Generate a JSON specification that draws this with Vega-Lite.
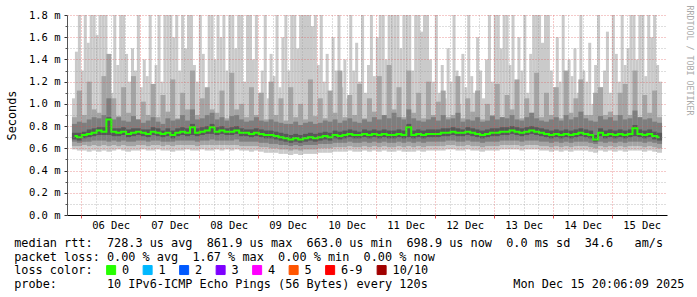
{
  "$schema": "https://vega.github.io/schema/vega-lite/v6.json",
  "width": 600,
  "height": 200,
  "autosize": {"type": "none"},
  "padding": {"left": 67, "top": 15, "right": 30, "bottom": 82},
  "background": "#ffffff",
  "config": {"view": {"stroke": null}, "font": "DejaVu Sans Mono"},
  "title": {
    "text": ["median\u00a0rtt:\u00a0\u00a0728.3\u00a0us\u00a0avg\u00a0\u00a0861.9\u00a0us\u00a0max\u00a0\u00a0663.0\u00a0us\u00a0min\u00a0\u00a0698.9\u00a0us\u00a0now\u00a0\u00a00.0\u00a0ms\u00a0sd\u00a0\u00a034.6\u00a0\u00a0\u00a0am/s",
             "packet\u00a0loss:\u00a00.00\u00a0%\u00a0avg\u00a0\u00a01.67\u00a0%\u00a0max\u00a0\u00a00.00\u00a0%\u00a0min\u00a0\u00a00.00\u00a0%\u00a0now"],
    "subtitle": "probe:\u00a0\u00a0\u00a0\u00a0\u00a0\u00a0\u00a010\u00a0IPv6-ICMP\u00a0Echo\u00a0Pings\u00a0(56\u00a0Bytes)\u00a0every\u00a0120s\u00a0\u00a0\u00a0\u00a0\u00a0\u00a0\u00a0\u00a0\u00a0\u00a0\u00a0\u00a0Mon\u00a0Dec\u00a015\u00a020:06:09\u00a02025",
    "orient": "bottom",
    "anchor": "start",
    "frame": "group",
    "dx": -52.8,
    "offset": -39.5,
    "font": "DejaVu Sans Mono",
    "fontSize": 11.85,
    "fontWeight": "normal",
    "color": "#000000",
    "lineHeight": 14,
    "subtitleFont": "DejaVu Sans Mono",
    "subtitleFontSize": 11.85,
    "subtitleFontWeight": "normal",
    "subtitleColor": "#000000",
    "subtitleLineHeight": 14,
    "subtitlePadding": 16
  },
  "datasets": {
    "spk": [
      {"h":20.9,"v":1.05},{"h":22.1,"v":1.47},{"h":23.3,"v":1.8},{"h":24.5,"v":1.3},{"h":25.7,"v":1.8},{"h":26.9,"v":1.55},{"h":28.1,"v":1.8},{"h":29.3,"v":1.8},{"h":30.5,"v":1.62},{"h":31.7,"v":1.8},
      {"h":32.9,"v":1.8},{"h":34.1,"v":1.8},{"h":35.3,"v":1.25},{"h":36.5,"v":1.1},{"h":37.7,"v":1.8},{"h":38.9,"v":1.35},{"h":40.1,"v":1.8},{"h":41.3,"v":1.8},{"h":42.5,"v":1.45},{"h":43.7,"v":1.2},
      {"h":44.9,"v":1.5},{"h":46.1,"v":1.3},{"h":47.3,"v":1.8},{"h":48.5,"v":1.15},{"h":49.7,"v":1.4},{"h":50.9,"v":1.25},{"h":52.1,"v":1.8},{"h":53.3,"v":1.1},{"h":54.5,"v":1.35},{"h":55.7,"v":1.8},
      {"h":56.9,"v":1.2},{"h":58.1,"v":1.8},{"h":59.3,"v":1.8},{"h":60.5,"v":1.8},{"h":61.7,"v":1.6},{"h":62.9,"v":1.8},{"h":64.1,"v":1.3},{"h":65.3,"v":1.8},{"h":66.5,"v":1.5},{"h":67.7,"v":1.8},
      {"h":68.9,"v":1.8},{"h":70.1,"v":1.35},{"h":71.3,"v":1.2},{"h":72.5,"v":1.8},{"h":73.7,"v":1.45},{"h":74.9,"v":1.1},{"h":76.1,"v":1.8},{"h":77.3,"v":1.8},{"h":78.5,"v":1.4},{"h":79.7,"v":1.8},
      {"h":80.9,"v":1.6},{"h":82.1,"v":1.8},{"h":83.3,"v":1.3},{"h":84.5,"v":1.8},{"h":85.7,"v":1.8},{"h":86.9,"v":1.5},{"h":88.1,"v":1.8},{"h":89.3,"v":1.8},{"h":90.5,"v":1.2},{"h":91.7,"v":1.8},
      {"h":92.9,"v":1.8},{"h":94.1,"v":1.4},{"h":95.3,"v":1.8},{"h":96.5,"v":1.1},{"h":97.7,"v":1.3},{"h":98.9,"v":1.8},{"h":100.1,"v":1.05},{"h":101.3,"v":1.45},{"h":102.5,"v":1.25},{"h":103.7,"v":1.8},
      {"h":104.9,"v":1.15},{"h":106.1,"v":1.6},{"h":107.3,"v":1.8},{"h":108.5,"v":1.3},{"h":109.7,"v":1.8},{"h":110.9,"v":1.8},{"h":112.1,"v":1.5},{"h":113.3,"v":1.8},{"h":114.5,"v":1.8},{"h":115.7,"v":1.8},
      {"h":116.9,"v":1.8},{"h":118.1,"v":1.7},{"h":119.3,"v":1.8},{"h":120.5,"v":1.35},{"h":121.7,"v":1.8},{"h":122.9,"v":1.2},{"h":124.1,"v":1.45},{"h":125.3,"v":1.1},{"h":126.5,"v":1.6},{"h":127.7,"v":1.3},
      {"h":128.9,"v":1.8},{"h":130.1,"v":1.15},{"h":131.3,"v":1.4},{"h":132.5,"v":1.05},{"h":133.7,"v":1.8},{"h":134.9,"v":1.3},{"h":136.1,"v":1.55},{"h":137.3,"v":1.2},{"h":138.5,"v":1.8},{"h":139.7,"v":1.1},
      {"h":140.9,"v":1.35},{"h":142.1,"v":1.8},{"h":143.3,"v":1.25},{"h":144.5,"v":1.6},{"h":145.7,"v":1.8},{"h":146.9,"v":1.8},{"h":148.1,"v":1.4},{"h":149.3,"v":1.8},{"h":150.5,"v":1.8},{"h":151.7,"v":1.8},
      {"h":152.9,"v":1.8},{"h":154.1,"v":1.5},{"h":155.3,"v":1.8},{"h":156.5,"v":1.8},{"h":157.7,"v":1.8},{"h":158.9,"v":1.3},{"h":160.1,"v":1.8},{"h":161.3,"v":1.8},{"h":162.5,"v":1.65},{"h":163.7,"v":1.8},
      {"h":164.9,"v":1.8},{"h":166.1,"v":1.4},{"h":167.3,"v":1.2},{"h":168.5,"v":1.8},{"h":169.7,"v":1.1},{"h":170.9,"v":1.35},{"h":172.1,"v":1.05},{"h":173.3,"v":1.5},{"h":174.5,"v":1.2},{"h":175.7,"v":1.8},
      {"h":176.9,"v":1.3},{"h":178.1,"v":1.0},{"h":179.3,"v":1.45},{"h":180.5,"v":1.15},{"h":181.7,"v":1.8},{"h":182.9,"v":1.25},{"h":184.1,"v":1.1},{"h":185.3,"v":1.6},{"h":186.5,"v":1.3},{"h":187.7,"v":1.05},
      {"h":188.9,"v":1.4},{"h":190.1,"v":1.8},{"h":191.3,"v":1.2},{"h":192.5,"v":1.8},{"h":193.7,"v":1.8},{"h":194.9,"v":1.5},{"h":196.1,"v":1.8},{"h":197.3,"v":1.8},{"h":198.5,"v":1.35},{"h":199.7,"v":1.8},
      {"h":200.9,"v":1.2},{"h":202.1,"v":1.6},{"h":203.3,"v":1.3},{"h":204.5,"v":1.8},{"h":205.7,"v":1.1},{"h":206.9,"v":1.45},{"h":208.1,"v":1.8},{"h":209.3,"v":1.8},{"h":210.5,"v":1.8},{"h":211.7,"v":1.55},
      {"h":212.9,"v":1.8},{"h":214.1,"v":1.8},{"h":215.3,"v":1.3},{"h":216.5,"v":1.15},{"h":217.7,"v":1.6},{"h":218.9,"v":1.2},{"h":220.1,"v":1.8},{"h":221.3,"v":1.05},{"h":222.5,"v":1.4},{"h":223.7,"v":1.25},
      {"h":224.9,"v":1.5},{"h":226.1,"v":1.1},{"h":227.3,"v":1.8},{"h":228.5,"v":1.3},{"h":229.7,"v":1.2},{"h":230.9,"v":1.55},{"h":232.1,"v":1.0},{"h":233.3,"v":1.35},{"h":234.5,"v":1.8},{"h":235.7,"v":1.15},
      {"h":236.9,"v":1.3},{"h":238.1,"v":1.65},{"h":239.3,"v":1.1},{"h":240.5,"v":1.8},{"h":241.7,"v":1.45},{"h":242.9,"v":1.2},{"h":244.1,"v":1.8},{"h":245.3,"v":1.35},{"h":246.5,"v":1.5},{"h":247.7,"v":1.8},
      {"h":248.9,"v":1.8},{"h":250.1,"v":1.4},{"h":251.3,"v":1.8},{"h":252.5,"v":1.8},{"h":253.7,"v":1.25},{"h":254.9,"v":1.8},{"h":256.1,"v":1.6},{"h":257.3,"v":1.8},{"h":258.5,"v":1.35},{"h":259.7,"v":1.2}
    ],
    "smk": [
      {"h":21.3,"a":0.59,"b":0.62,"c":0.66,"d":0.68,"m":0.71,"e":0.74,"f":0.82,"g":0.88},
      {"h":23.3,"a":0.58,"b":0.62,"c":0.65,"d":0.67,"m":0.70,"e":0.74,"f":0.84,"g":1.12},
      {"h":25.3,"a":0.58,"b":0.63,"c":0.66,"d":0.69,"m":0.72,"e":0.75,"f":0.83,"g":0.9},
      {"h":27.3,"a":0.57,"b":0.62,"c":0.66,"d":0.70,"m":0.73,"e":0.77,"f":0.86,"g":1.2},
      {"h":29.3,"a":0.58,"b":0.63,"c":0.67,"d":0.71,"m":0.74,"e":0.78,"f":0.88,"g":0.95},
      {"h":31.3,"a":0.57,"b":0.62,"c":0.67,"d":0.72,"m":0.76,"e":0.79,"f":0.87,"g":0.92},
      {"h":33.3,"a":0.58,"b":0.63,"c":0.67,"d":0.72,"m":0.75,"e":0.79,"f":0.90,"g":1.25},
      {"h":35.3,"a":0.57,"b":0.62,"c":0.66,"d":0.72,"m":0.86,"e":0.88,"f":1.05,"g":1.45},
      {"h":37.3,"a":0.58,"b":0.63,"c":0.67,"d":0.71,"m":0.75,"e":0.78,"f":0.86,"g":1.05},
      {"h":39.3,"a":0.59,"b":0.62,"c":0.66,"d":0.71,"m":0.74,"e":0.78,"f":0.88,"g":0.89},
      {"h":41.3,"a":0.58,"b":0.63,"c":0.67,"d":0.72,"m":0.75,"e":0.79,"f":0.85,"g":1.15},
      {"h":43.3,"a":0.57,"b":0.62,"c":0.66,"d":0.70,"m":0.73,"e":0.77,"f":0.84,"g":0.92},
      {"h":45.3,"a":0.58,"b":0.62,"c":0.66,"d":0.71,"m":0.74,"e":0.78,"f":0.89,"g":1.25},
      {"h":47.3,"a":0.58,"b":0.63,"c":0.67,"d":0.72,"m":0.75,"e":0.78,"f":0.86,"g":0.86},
      {"h":49.3,"a":0.59,"b":0.63,"c":0.67,"d":0.71,"m":0.74,"e":0.77,"f":0.83,"g":1.02},
      {"h":51.3,"a":0.58,"b":0.62,"c":0.66,"d":0.70,"m":0.73,"e":0.77,"f":0.85,"g":0.9},
      {"h":53.3,"a":0.58,"b":0.63,"c":0.67,"d":0.72,"m":0.75,"e":0.79,"f":0.88,"g":1.18},
      {"h":55.3,"a":0.59,"b":0.63,"c":0.67,"d":0.71,"m":0.74,"e":0.78,"f":0.84,"g":0.88},
      {"h":57.3,"a":0.58,"b":0.62,"c":0.66,"d":0.70,"m":0.73,"e":0.76,"f":0.82,"g":1.08},
      {"h":59.3,"a":0.58,"b":0.63,"c":0.66,"d":0.71,"m":0.74,"e":0.78,"f":0.87,"g":0.93},
      {"h":61.3,"a":0.57,"b":0.62,"c":0.66,"d":0.69,"m":0.72,"e":0.76,"f":0.85,"g":1.22},
      {"h":63.3,"a":0.58,"b":0.63,"c":0.67,"d":0.71,"m":0.74,"e":0.78,"f":0.86,"g":0.87},
      {"h":65.3,"a":0.58,"b":0.63,"c":0.67,"d":0.72,"m":0.75,"e":0.79,"f":0.90,"g":1.1},
      {"h":67.3,"a":0.59,"b":0.63,"c":0.67,"d":0.71,"m":0.74,"e":0.78,"f":0.85,"g":0.95},
      {"h":69.3,"a":0.58,"b":0.63,"c":0.67,"d":0.72,"m":0.79,"e":0.82,"f":0.95,"g":1.3},
      {"h":71.3,"a":0.58,"b":0.62,"c":0.66,"d":0.71,"m":0.74,"e":0.78,"f":0.86,"g":0.9},
      {"h":73.3,"a":0.59,"b":0.63,"c":0.67,"d":0.72,"m":0.75,"e":0.79,"f":0.87,"g":1.05},
      {"h":75.3,"a":0.58,"b":0.63,"c":0.67,"d":0.73,"m":0.76,"e":0.80,"f":0.90,"g":1.15},
      {"h":77.3,"a":0.58,"b":0.63,"c":0.68,"d":0.73,"m":0.79,"e":0.82,"f":0.92,"g":0.95},
      {"h":79.3,"a":0.59,"b":0.63,"c":0.67,"d":0.72,"m":0.75,"e":0.79,"f":0.86,"g":0.92},
      {"h":81.3,"a":0.58,"b":0.63,"c":0.67,"d":0.73,"m":0.76,"e":0.80,"f":0.88,"g":1.12},
      {"h":83.3,"a":0.59,"b":0.63,"c":0.67,"d":0.72,"m":0.75,"e":0.78,"f":0.85,"g":0.87},
      {"h":85.3,"a":0.58,"b":0.63,"c":0.67,"d":0.72,"m":0.75,"e":0.79,"f":0.89,"g":1.28},
      {"h":87.3,"a":0.59,"b":0.63,"c":0.68,"d":0.73,"m":0.76,"e":0.80,"f":0.90,"g":0.95},
      {"h":89.3,"a":0.58,"b":0.62,"c":0.66,"d":0.71,"m":0.74,"e":0.78,"f":0.86,"g":1.0},
      {"h":91.3,"a":0.58,"b":0.62,"c":0.66,"d":0.71,"m":0.74,"e":0.77,"f":0.84,"g":0.88},
      {"h":93.3,"a":0.57,"b":0.62,"c":0.66,"d":0.70,"m":0.73,"e":0.77,"f":0.85,"g":1.15},
      {"h":95.3,"a":0.58,"b":0.62,"c":0.66,"d":0.71,"m":0.74,"e":0.78,"f":0.88,"g":0.9},
      {"h":97.3,"a":0.57,"b":0.61,"c":0.65,"d":0.70,"m":0.73,"e":0.77,"f":0.85,"g":1.1},
      {"h":99.3,"a":0.56,"b":0.61,"c":0.65,"d":0.69,"m":0.72,"e":0.76,"f":0.84,"g":0.86},
      {"h":101.3,"a":0.56,"b":0.60,"c":0.64,"d":0.69,"m":0.72,"e":0.76,"f":0.86,"g":1.2},
      {"h":103.3,"a":0.56,"b":0.60,"c":0.64,"d":0.68,"m":0.71,"e":0.75,"f":0.84,"g":0.9},
      {"h":105.3,"a":0.55,"b":0.59,"c":0.63,"d":0.67,"m":0.70,"e":0.74,"f":0.83,"g":1.05},
      {"h":107.3,"a":0.55,"b":0.59,"c":0.63,"d":0.66,"m":0.69,"e":0.73,"f":0.82,"g":0.85},
      {"h":109.3,"a":0.54,"b":0.58,"c":0.62,"d":0.65,"m":0.68,"e":0.72,"f":0.82,"g":1.15},
      {"h":111.3,"a":0.55,"b":0.59,"c":0.63,"d":0.66,"m":0.69,"e":0.73,"f":0.84,"g":0.88},
      {"h":113.3,"a":0.54,"b":0.58,"c":0.62,"d":0.65,"m":0.68,"e":0.72,"f":0.81,"g":1.0},
      {"h":115.3,"a":0.55,"b":0.59,"c":0.63,"d":0.66,"m":0.69,"e":0.73,"f":0.83,"g":0.86},
      {"h":117.3,"a":0.55,"b":0.59,"c":0.63,"d":0.67,"m":0.70,"e":0.74,"f":0.84,"g":1.22},
      {"h":119.3,"a":0.55,"b":0.59,"c":0.63,"d":0.66,"m":0.69,"e":0.73,"f":0.82,"g":0.89},
      {"h":121.3,"a":0.56,"b":0.60,"c":0.64,"d":0.67,"m":0.70,"e":0.74,"f":0.83,"g":1.05},
      {"h":123.3,"a":0.56,"b":0.60,"c":0.64,"d":0.68,"m":0.71,"e":0.75,"f":0.85,"g":0.87},
      {"h":125.3,"a":0.56,"b":0.60,"c":0.64,"d":0.67,"m":0.70,"e":0.74,"f":0.84,"g":1.12},
      {"h":127.3,"a":0.57,"b":0.61,"c":0.65,"d":0.69,"m":0.72,"e":0.76,"f":0.86,"g":0.92},
      {"h":129.3,"a":0.57,"b":0.61,"c":0.65,"d":0.68,"m":0.71,"e":0.75,"f":0.83,"g":1.3},
      {"h":131.3,"a":0.57,"b":0.61,"c":0.65,"d":0.69,"m":0.72,"e":0.76,"f":0.85,"g":0.88},
      {"h":133.3,"a":0.58,"b":0.62,"c":0.66,"d":0.70,"m":0.73,"e":0.77,"f":0.87,"g":1.08},
      {"h":135.3,"a":0.57,"b":0.61,"c":0.65,"d":0.69,"m":0.72,"e":0.76,"f":0.84,"g":0.9},
      {"h":137.3,"a":0.57,"b":0.61,"c":0.65,"d":0.69,"m":0.72,"e":0.75,"f":0.83,"g":1.18},
      {"h":139.3,"a":0.58,"b":0.62,"c":0.66,"d":0.70,"m":0.73,"e":0.77,"f":0.86,"g":0.87},
      {"h":141.3,"a":0.57,"b":0.61,"c":0.65,"d":0.69,"m":0.72,"e":0.76,"f":0.84,"g":1.05},
      {"h":143.3,"a":0.58,"b":0.62,"c":0.66,"d":0.70,"m":0.73,"e":0.77,"f":0.88,"g":0.93},
      {"h":145.3,"a":0.57,"b":0.61,"c":0.65,"d":0.69,"m":0.72,"e":0.76,"f":0.86,"g":1.25},
      {"h":147.3,"a":0.58,"b":0.62,"c":0.66,"d":0.70,"m":0.73,"e":0.77,"f":0.90,"g":0.9},
      {"h":149.3,"a":0.57,"b":0.61,"c":0.65,"d":0.69,"m":0.72,"e":0.76,"f":0.87,"g":1.35},
      {"h":151.3,"a":0.57,"b":0.61,"c":0.65,"d":0.69,"m":0.72,"e":0.76,"f":0.92,"g":0.95},
      {"h":153.3,"a":0.58,"b":0.62,"c":0.66,"d":0.70,"m":0.73,"e":0.77,"f":0.88,"g":1.15},
      {"h":155.3,"a":0.57,"b":0.61,"c":0.65,"d":0.69,"m":0.72,"e":0.76,"f":0.86,"g":0.88},
      {"h":157.3,"a":0.57,"b":0.62,"c":0.66,"d":0.70,"m":0.79,"e":0.82,"f":0.95,"g":1.3},
      {"h":159.3,"a":0.57,"b":0.61,"c":0.65,"d":0.69,"m":0.72,"e":0.76,"f":0.87,"g":0.92},
      {"h":161.3,"a":0.58,"b":0.62,"c":0.66,"d":0.70,"m":0.73,"e":0.77,"f":0.85,"g":1.1},
      {"h":163.3,"a":0.57,"b":0.61,"c":0.65,"d":0.69,"m":0.72,"e":0.76,"f":0.84,"g":0.87},
      {"h":165.3,"a":0.58,"b":0.62,"c":0.66,"d":0.70,"m":0.73,"e":0.77,"f":0.86,"g":1.2},
      {"h":167.3,"a":0.58,"b":0.62,"c":0.66,"d":0.70,"m":0.73,"e":0.77,"f":0.88,"g":0.9},
      {"h":169.3,"a":0.58,"b":0.62,"c":0.66,"d":0.70,"m":0.73,"e":0.77,"f":0.85,"g":1.02},
      {"h":171.3,"a":0.58,"b":0.62,"c":0.66,"d":0.71,"m":0.74,"e":0.78,"f":0.90,"g":1.12},
      {"h":173.3,"a":0.59,"b":0.63,"c":0.67,"d":0.71,"m":0.74,"e":0.78,"f":0.86,"g":0.88},
      {"h":175.3,"a":0.59,"b":0.63,"c":0.67,"d":0.72,"m":0.75,"e":0.79,"f":0.87,"g":0.9},
      {"h":177.3,"a":0.58,"b":0.62,"c":0.66,"d":0.71,"m":0.74,"e":0.78,"f":0.92,"g":1.25},
      {"h":179.3,"a":0.58,"b":0.62,"c":0.66,"d":0.71,"m":0.74,"e":0.77,"f":0.84,"g":0.87},
      {"h":181.3,"a":0.59,"b":0.63,"c":0.67,"d":0.72,"m":0.75,"e":0.79,"f":0.86,"g":1.05},
      {"h":183.3,"a":0.58,"b":0.62,"c":0.66,"d":0.71,"m":0.74,"e":0.78,"f":0.85,"g":0.93},
      {"h":185.3,"a":0.58,"b":0.62,"c":0.66,"d":0.70,"m":0.73,"e":0.77,"f":0.88,"g":1.12},
      {"h":187.3,"a":0.57,"b":0.61,"c":0.65,"d":0.69,"m":0.72,"e":0.76,"f":0.84,"g":0.86},
      {"h":189.3,"a":0.58,"b":0.62,"c":0.66,"d":0.70,"m":0.73,"e":0.77,"f":0.85,"g":1.0},
      {"h":191.3,"a":0.58,"b":0.62,"c":0.66,"d":0.71,"m":0.74,"e":0.78,"f":0.89,"g":0.9},
      {"h":193.3,"a":0.58,"b":0.62,"c":0.66,"d":0.71,"m":0.74,"e":0.78,"f":0.86,"g":1.18},
      {"h":195.3,"a":0.59,"b":0.63,"c":0.67,"d":0.72,"m":0.75,"e":0.79,"f":0.88,"g":0.88},
      {"h":197.3,"a":0.59,"b":0.63,"c":0.67,"d":0.72,"m":0.75,"e":0.79,"f":0.87,"g":1.08},
      {"h":199.3,"a":0.59,"b":0.63,"c":0.67,"d":0.73,"m":0.76,"e":0.80,"f":0.90,"g":0.95},
      {"h":201.3,"a":0.59,"b":0.63,"c":0.67,"d":0.72,"m":0.75,"e":0.79,"f":0.86,"g":1.22},
      {"h":203.3,"a":0.58,"b":0.62,"c":0.66,"d":0.71,"m":0.74,"e":0.78,"f":0.85,"g":0.87},
      {"h":205.3,"a":0.59,"b":0.63,"c":0.67,"d":0.72,"m":0.75,"e":0.79,"f":0.88,"g":1.05},
      {"h":207.3,"a":0.59,"b":0.63,"c":0.67,"d":0.73,"m":0.76,"e":0.80,"f":0.92,"g":0.92},
      {"h":209.3,"a":0.59,"b":0.63,"c":0.67,"d":0.72,"m":0.75,"e":0.79,"f":0.87,"g":1.28},
      {"h":211.3,"a":0.58,"b":0.62,"c":0.66,"d":0.71,"m":0.74,"e":0.78,"f":0.85,"g":0.88},
      {"h":213.3,"a":0.58,"b":0.62,"c":0.66,"d":0.70,"m":0.73,"e":0.77,"f":0.84,"g":1.1},
      {"h":215.3,"a":0.57,"b":0.61,"c":0.65,"d":0.69,"m":0.72,"e":0.76,"f":0.86,"g":0.9},
      {"h":217.3,"a":0.58,"b":0.62,"c":0.66,"d":0.70,"m":0.73,"e":0.77,"f":0.88,"g":1.15},
      {"h":219.3,"a":0.57,"b":0.61,"c":0.65,"d":0.69,"m":0.72,"e":0.76,"f":0.85,"g":0.87},
      {"h":221.3,"a":0.58,"b":0.62,"c":0.66,"d":0.70,"m":0.73,"e":0.77,"f":0.90,"g":1.3},
      {"h":223.3,"a":0.57,"b":0.61,"c":0.65,"d":0.69,"m":0.72,"e":0.76,"f":0.86,"g":0.92},
      {"h":225.3,"a":0.58,"b":0.62,"c":0.66,"d":0.70,"m":0.73,"e":0.77,"f":0.88,"g":1.05},
      {"h":227.3,"a":0.58,"b":0.62,"c":0.66,"d":0.71,"m":0.74,"e":0.78,"f":0.93,"g":1.22},
      {"h":229.3,"a":0.58,"b":0.62,"c":0.66,"d":0.70,"m":0.73,"e":0.77,"f":0.87,"g":0.9},
      {"h":231.3,"a":0.57,"b":0.61,"c":0.65,"d":0.69,"m":0.72,"e":0.76,"f":0.85,"g":0.9},
      {"h":233.3,"a":0.56,"b":0.60,"c":0.64,"d":0.66,"m":0.68,"e":0.72,"f":0.84,"g":1.1},
      {"h":235.3,"a":0.58,"b":0.62,"c":0.66,"d":0.71,"m":0.74,"e":0.78,"f":0.89,"g":1.15},
      {"h":237.3,"a":0.57,"b":0.61,"c":0.65,"d":0.69,"m":0.72,"e":0.76,"f":0.86,"g":0.9},
      {"h":239.3,"a":0.58,"b":0.62,"c":0.66,"d":0.70,"m":0.73,"e":0.77,"f":0.88,"g":0.93},
      {"h":241.3,"a":0.57,"b":0.61,"c":0.65,"d":0.69,"m":0.72,"e":0.76,"f":0.85,"g":0.9},
      {"h":243.3,"a":0.58,"b":0.62,"c":0.66,"d":0.70,"m":0.73,"e":0.77,"f":0.90,"g":1.1},
      {"h":245.3,"a":0.57,"b":0.61,"c":0.65,"d":0.69,"m":0.72,"e":0.76,"f":0.86,"g":1.18},
      {"h":247.3,"a":0.58,"b":0.62,"c":0.66,"d":0.70,"m":0.73,"e":0.77,"f":0.87,"g":0.9},
      {"h":249.3,"a":0.58,"b":0.62,"c":0.66,"d":0.71,"m":0.78,"e":0.81,"f":0.94,"g":1.3},
      {"h":251.3,"a":0.58,"b":0.62,"c":0.66,"d":0.70,"m":0.73,"e":0.77,"f":0.88,"g":0.88},
      {"h":253.3,"a":0.57,"b":0.61,"c":0.65,"d":0.69,"m":0.72,"e":0.76,"f":0.86,"g":1.08},
      {"h":255.3,"a":0.58,"b":0.62,"c":0.66,"d":0.70,"m":0.73,"e":0.77,"f":0.87,"g":0.92},
      {"h":257.3,"a":0.57,"b":0.61,"c":0.65,"d":0.68,"m":0.71,"e":0.75,"f":0.84,"g":1.12},
      {"h":259.3,"a":0.56,"b":0.60,"c":0.64,"d":0.67,"m":0.70,"e":0.74,"f":0.83,"g":0.88}
    ]
  },
  "layer": [
    {
      "data": {"name": "spk"},
      "mark": {"type": "bar", "size": 3, "color": "#cacaca"},
      "encoding": {
        "x": {"field": "h", "type": "quantitative", "scale": {"domain": [20.3, 260.3], "nice": false, "zero": false},
          "axis": {"orient": "bottom", "values": [36, 60, 84, 108, 132, 156, 180, 204, 228, 252],
            "labelExpr": "(floor(datum.value/24)+5 < 10 ? '0' : '') + (floor(datum.value/24)+5) + ' Dec'",
            "grid": false, "ticks": false, "domain": true, "domainColor": "#000000", "domainWidth": 1,
            "labelFont": "DejaVu Sans Mono", "labelFontSize": 10.5, "labelColor": "#000000", "labelPadding": 5,
            "labelFlush": false, "labelOverlap": false, "title": null, "zindex": 1}},
        "y": {"field": "v", "type": "quantitative", "scale": {"domain": [0, 1.8], "nice": false, "zero": true},
          "axis": {"orient": "left", "values": [0, 0.2, 0.4, 0.6, 0.8, 1.0, 1.2, 1.4, 1.6, 1.8],
            "labelExpr": "format(datum.value, '.1f') + ' m'",
            "grid": true, "gridColor": "#de4f4f", "gridOpacity": 0.6, "gridDash": [1, 2],
            "ticks": true, "tickSize": 3, "tickColor": "#333333",
            "domain": true, "domainColor": "#555555",
            "labelFont": "DejaVu Sans Mono", "labelFontSize": 10.5, "labelColor": "#000000", "labelPadding": 4,
            "labelFlush": false, "labelOverlap": false,
            "title": "Seconds", "titleFont": "DejaVu Sans Mono", "titleFontSize": 11.85, "titleFontWeight": "normal",
            "titleColor": "#000000", "titleX": -52, "titleBaseline": "alphabetic", "zindex": 1}},
        "y2": {"datum": 0.78}
      }
    },
    {
      "data": {"name": "smk"},
      "mark": {"type": "bar", "size": 5, "color": "#cacaca"},
      "encoding": {
        "x": {"field": "h", "type": "quantitative", "scale": {"domain": [20.3, 260.3], "nice": false, "zero": false},
          "axis": {"orient": "bottom", "values": [30, 36, 42, 54, 60, 66, 78, 84, 90, 102, 108, 114, 126, 132, 138, 150, 156, 162, 174, 180, 186, 198, 204, 210, 222, 228, 234, 246, 252, 258],
            "grid": true, "gridColor": "#8f8f8f", "gridOpacity": 0.6, "gridDash": [1, 2],
            "labels": false, "ticks": false, "domain": false, "title": null, "zindex": 1}},
        "y": {"field": "a", "type": "quantitative", "scale": {"domain": [0, 1.8], "nice": false, "zero": true},
          "axis": {"orient": "left", "values": [0.1, 0.3, 0.5, 0.7, 0.9, 1.1, 1.3, 1.5, 1.7],
            "grid": true, "gridColor": "#8f8f8f", "gridOpacity": 0.6, "gridDash": [1, 2],
            "labels": false, "ticks": true, "tickSize": 2, "tickColor": "#555555", "domain": false, "title": null, "zindex": 1}},
        "y2": {"datum": 0.8}
      }
    },
    {
      "data": {"name": "smk"},
      "mark": {"type": "bar", "size": 5, "color": "#a4a4a4"},
      "encoding": {
        "x": {"field": "h", "type": "quantitative", "scale": {"domain": [20.3, 260.3], "nice": false, "zero": false},
          "axis": {"orient": "bottom", "values": [24, 48, 72, 96, 120, 144, 168, 192, 216, 240],
            "grid": true, "gridColor": "#de4f4f", "gridOpacity": 0.6, "gridDash": [1, 2],
            "labels": false, "ticks": true, "tickSize": 3, "tickColor": "#de4f4f", "domain": false, "title": null, "zindex": 1}},
        "y": {"field": "b", "type": "quantitative", "scale": {"domain": [0, 1.8], "nice": false, "zero": true},
          "axis": {"orient": "right", "labels": false, "ticks": false, "domain": false, "grid": false,
            "title": "RRDTOOL / TOBI OETIKER", "titleFont": "DejaVu Sans Mono", "titleFontSize": 8.3,
            "titleFontWeight": "normal", "titleColor": "#aaaaaa", "titleAngle": 90,
            "titleX": 21, "titleY": -10, "titleAlign": "left", "titleBaseline": "middle"}},
        "y2": {"field": "g"}
      }
    },
    {
      "data": {"name": "smk"},
      "mark": {"type": "bar", "size": 5, "color": "#7e7e7e"},
      "encoding": {
        "x": {"field": "h", "type": "quantitative", "scale": {"domain": [20.3, 260.3], "nice": false, "zero": false}, "axis": null},
        "y": {"field": "c", "type": "quantitative", "scale": {"domain": [0, 1.8], "nice": false, "zero": true}, "axis": null},
        "y2": {"field": "f"}
      }
    },
    {
      "data": {"name": "smk"},
      "mark": {"type": "bar", "size": 5, "color": "#585858"},
      "encoding": {
        "x": {"field": "h", "type": "quantitative", "scale": {"domain": [20.3, 260.3], "nice": false, "zero": false}, "axis": null},
        "y": {"field": "d", "type": "quantitative", "scale": {"domain": [0, 1.8], "nice": false, "zero": true}, "axis": null},
        "y2": {"field": "e"}
      }
    },
    {
      "data": {"name": "smk"},
      "mark": {"type": "line", "interpolate": "step", "strokeWidth": 2},
      "encoding": {
        "x": {"field": "h", "type": "quantitative", "scale": {"domain": [20.3, 260.3], "nice": false, "zero": false}, "axis": null},
        "y": {"field": "m", "type": "quantitative", "scale": {"domain": [0, 1.8], "nice": false, "zero": true}, "axis": null},
        "color": {"datum": "0", "type": "nominal",
          "scale": {"domain": ["0", "1", "2", "3", "4", "5", "6-9", "10/10"],
                    "range": ["#26ff00", "#00b8ff", "#0059ff", "#7e00ff", "#ff00ff", "#ff5500", "#ff0000", "#a10000"]},
          "legend": {"orient": "none", "legendX": -52.8, "legendY": 249, "direction": "horizontal", "columns": 8,
            "title": "loss\u00a0color:", "titleOrient": "left", "titleFont": "DejaVu Sans Mono", "titleFontSize": 11.85,
            "titleFontWeight": "normal", "titleColor": "#000000", "titlePadding": 12,
            "labelFont": "DejaVu Sans Mono", "labelFontSize": 11.85, "labelColor": "#000000", "labelOffset": 5,
            "columnPadding": 11.5, "symbolType": "square", "symbolSize": 81, "symbolStrokeWidth": 1,
            "symbolStrokeColor": "#000000", "padding": 0,
            "encode": {"symbols": {"update": {"fill": {"scale": "color", "field": "value"}, "stroke": {"value": "#000000"}, "strokeWidth": {"value": 1}, "opacity": {"value": 1}}}}}}
      }
    }
  ],
  "resolve": {"axis": {"x": "independent", "y": "independent"}}
}
